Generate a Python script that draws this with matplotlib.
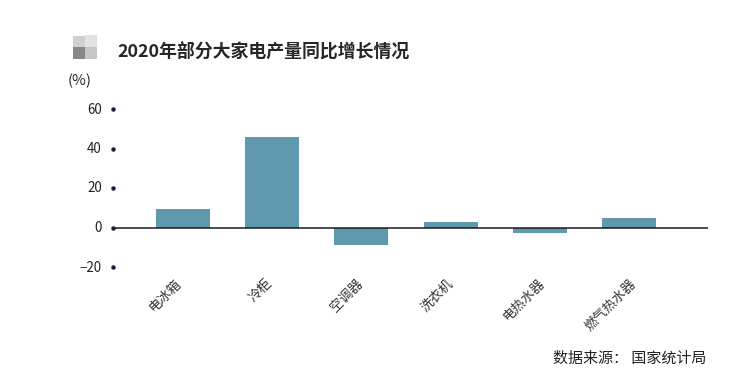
import matplotlib
matplotlib.use("Agg")
import matplotlib.pyplot as plt
from matplotlib.patches import Rectangle
from matplotlib.transforms import ScaledTranslation

plt.rcParams['font.family'] = ['Noto Sans CJK SC', 'DejaVu Sans']

categories = ["电冰箱", "冷柜", "空调器", "洗衣机", "电热水器", "燃气热水器"]
values = [9.6, 46.0, -9.0, 3.0, -3.0, 5.0]
yticks = [-20, 0, 20, 40, 60]
ytick_labels = ["−20", "0", "20", "40", "60"]

W, H = 729, 381
fig = plt.figure(figsize=(W / 100, H / 100), dpi=100, facecolor="white")

def px_axes(x0, y0, x1, y1):
    return fig.add_axes([x0 / W, 1 - y1 / H, (x1 - x0) / W, (y1 - y0) / H])

ax = px_axes(113, 109, 708, 267)
ax.patch.set_alpha(0)
x = list(range(len(categories)))
ax.bar(x, values, width=0.605, color="#5e99ae", zorder=2)
ax.set_xlim(-0.785, 5.886)
ax.set_ylim(-20, 60)
for s in ax.spines.values():
    s.set_visible(False)
ax.axhline(0, color="#1a1a1a", lw=1.1, zorder=3)

ax.set_yticks(yticks)
ax.set_yticklabels(ytick_labels, fontsize=9.6, color="#222222")
ax.tick_params(axis="y", length=0, pad=8)
ax.plot([0] * len(yticks), yticks, ls="none", marker="o", ms=2.2, color="#10203a",
        transform=ax.get_yaxis_transform(), clip_on=False, zorder=4)
for lab in ax.get_yticklabels():
    lab.set_transform(lab.get_transform() + ScaledTranslation(0, 1 / 100, fig.dpi_scale_trans))

ax.set_xticks(x)
ax.set_xticklabels(categories, fontsize=9.5, color="#333333", rotation=45,
                   ha="center", va="top")
ax.tick_params(axis="x", length=0, pad=7)
label_shift_px = [-18, -12, -14.5, -13, -16, -18]
for lab, dx in zip(ax.get_xticklabels(), label_shift_px):
    lab.set_transform(lab.get_transform() + ScaledTranslation(dx / 100, 0, fig.dpi_scale_trans))

# title icon
blocks = [(73, 36, 12, 12, "#d2cfd2"), (85, 35, 12, 12, "#e2e2e2"),
          (73, 47, 12, 12, "#8b8689"), (85, 47, 12, 12, "#c6c6c6")]
for bx, by, bw, bh, c in blocks:
    fig.add_artist(Rectangle((bx / W, 1 - (by + bh) / H), bw / W, bh / H,
                             transform=fig.transFigure, color=c, lw=0))

fig.text(117 / W, 1 - 51 / H, "2020年部分大家电产量同比增长情况", fontsize=12.9,
         fontweight="bold", color="#262626", va="center", ha="left")
fig.text(68 / W, 1 - 81 / H, "(%)", fontsize=10.8, color="#262626", va="center", ha="left")
fig.text(706 / W, 1 - 359 / H, "数据来源： 国家统计局", fontsize=10.8, color="#222222",
         va="center", ha="right")

fig.savefig("out.png", dpi=100, facecolor="white")
